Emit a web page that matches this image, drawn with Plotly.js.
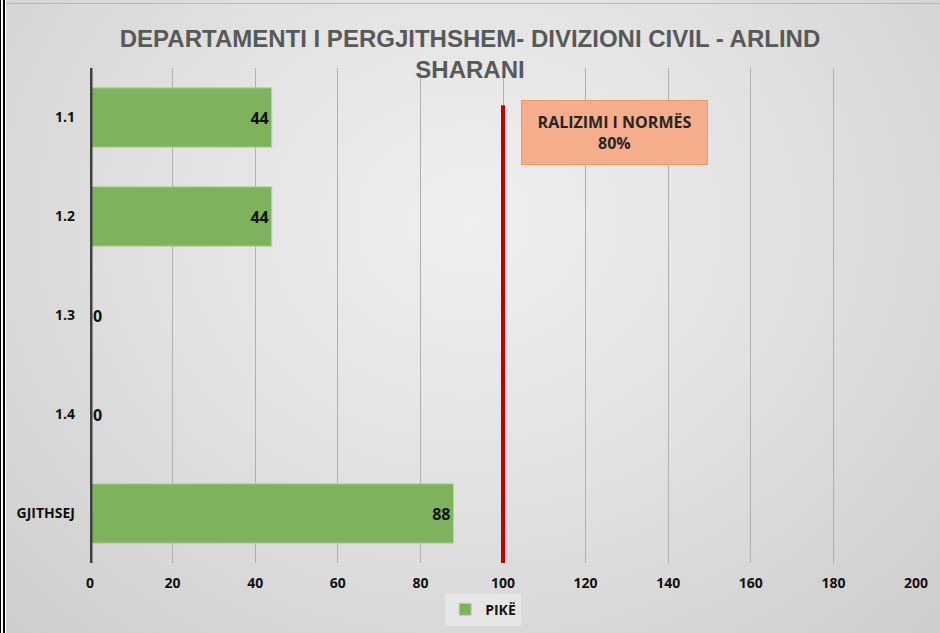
<!DOCTYPE html>
<html>
<head>
<meta charset="utf-8">
<script src="https://cdn.plot.ly/plotly-3.0.1.min.js"></script>
<style>
  html, body { margin: 0; padding: 0; background: #ffffff; }
  #wrap { position: relative; width: 940px; height: 633px; overflow: hidden;
          background: radial-gradient(ellipse at 50% 35%, #efefef 0%, #e2e2e2 45%, #cdcdcd 100%); }
  #bl1 { position: absolute; left: 0; top: 0; width: 1px; height: 633px; background: #000; }
  #bl2 { position: absolute; left: 3px; top: 0; width: 2px; height: 633px; background: #000; }
  #bw { position: absolute; left: 1px; top: 0; width: 2px; height: 633px; background: #fff; }
  #bw2 { position: absolute; left: 5px; top: 0; width: 1px; height: 633px; background: #fff; }
  #tl { position: absolute; left: 6px; top: 3px; width: 934px; height: 1px; background: #b8b8b8; }
  #chart { position: absolute; left: 0; top: 0; width: 940px; height: 633px; }
</style>
</head>
<body>
<div id="wrap">
  <div id="chart"></div>
  <div id="bl1"></div><div id="bw"></div><div id="bl2"></div><div id="bw2"></div><div id="tl"></div>
</div>
<script>
var categories = ["1.1", "1.2", "1.3", "1.4", "GJITHSEJ"];
var values = [44, 44, 0, 0, 88];
var seriesName = "PIKË";
var normValue = 100;
var normLabel = "RALIZIMI I NORMËS<br>80%";
var xTicks = [0, 20, 40, 60, 80, 100, 120, 140, 160, 180, 200];
var titleText = "DEPARTAMENTI I PERGJITHSHEM- DIVIZIONI CIVIL - ARLIND<br>SHARANI";

var labelFont = { family: "Open Sans, Lato, sans-serif", size: 14, color: "#111111", weight: "bold" };
var valueFont = { family: "Open Sans, Lato, sans-serif", size: 16, color: "#111111", weight: "bold" };

var trace = {
  type: "bar",
  orientation: "h",
  y: categories,
  x: values,
  name: seriesName,
  text: values.map(String),
  textposition: ["inside", "inside", "outside", "outside", "inside"],
  insidetextanchor: "end",
  constraintext: "none",
  cliponaxis: false,
  textfont: valueFont,
  insidetextfont: valueFont,
  outsidetextfont: valueFont,
  marker: { color: "#7db35c", line: { color: "#b4d99c", width: 1 } },
  hoverinfo: "x+y"
};

var layout = {
  width: 940,
  height: 633,
  paper_bgcolor: "rgba(0,0,0,0)",
  plot_bgcolor: "rgba(0,0,0,0)",
  margin: { l: 90, r: 24, t: 68, b: 70, autoexpand: false },
  bargap: 0.4,
  title: {
    text: titleText,
    font: { family: "Liberation Sans Narrow, Arial Narrow, sans-serif", size: 24, color: "#595959", weight: "bold" },
    x: 0.5, xanchor: "center",
    y: 0.926, yanchor: "top"
  },
  xaxis: {
    range: [0, 200],
    tickvals: xTicks,
    ticktext: xTicks.map(String),
    showgrid: true,
    gridcolor: "#b0b0b0",
    gridwidth: 1,
    zeroline: false,
    showline: false,
    ticks: "",
    ticklabelstandoff: 10,
    tickfont: { family: "Open Sans, Lato, sans-serif", size: 14, color: "#111111", weight: "bold" },
    fixedrange: true
  },
  yaxis: {
    type: "category",
    categoryorder: "array",
    categoryarray: categories,
    autorange: "reversed",
    showgrid: false,
    zeroline: false,
    showline: false,
    ticks: "",
    ticklabelstandoff: 14,
    tickfont: labelFont,
    fixedrange: true
  },
  showlegend: true,
  legend: {
    orientation: "h",
    x: 0.476, xanchor: "center",
    y: -0.062, yanchor: "top",
    bgcolor: "#e6e6e6",
    font: labelFont,
    itemwidth: 30
  },
  shapes: [
    { type: "line", xref: "x", yref: "paper", x0: 0, x1: 0, y0: 0, y1: 1,
      line: { color: "#404040", width: 5 } },
    { type: "line", xref: "x", yref: "paper", x0: normValue, x1: normValue, y0: 0, y1: 0.925,
      line: { color: "#c00000", width: 4 } }
  ],
  annotations: [
    { xref: "x", yref: "paper", x: 127, y: 0.87, xanchor: "center", yanchor: "middle",
      text: normLabel, showarrow: false, align: "center",
      font: { family: "Open Sans, Lato, sans-serif", size: 16, color: "#262626", weight: "bold" },
      bgcolor: "#f5ad8c", bordercolor: "#ee9a62", borderwidth: 1,
      width: 185, height: 63, borderpad: 0 }
  ]
};

Plotly.newPlot("chart", [trace], layout, { displayModeBar: false, staticPlot: true });
</script>
</body>
</html>
